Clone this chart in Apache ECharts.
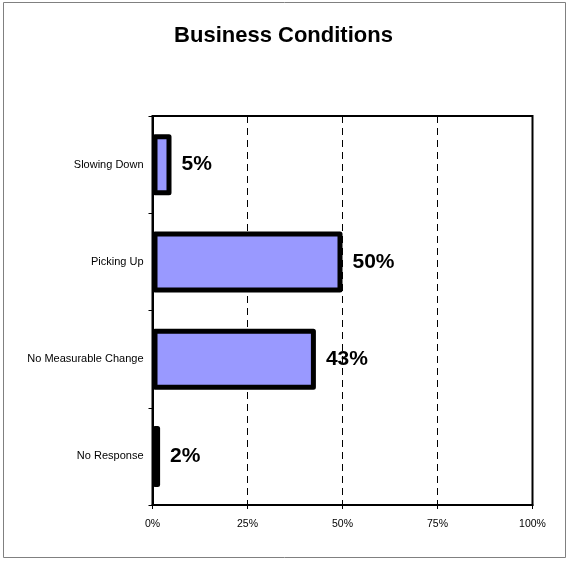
<!DOCTYPE html>
<html>
<head>
<meta charset="utf-8">
<title>Business Conditions</title>
<script src="https://cdn.jsdelivr.net/npm/echarts@6/dist/echarts.min.js"></script>
<style>
  html, body { margin: 0; padding: 0; background: #fff; }
  #chart { width: 567px; height: 561px; }
</style>
</head>
<body>
<div id="chart"></div>
<script>
// Survey responses, top to bottom
const categories = ['Slowing Down', 'Picking Up', 'No Measurable Change', 'No Response'];
const percentValues = [5, 50, 43, 2];
const barColors = ['#9999FF', '#9999FF', '#9999FF', '#000000'];
const xTicks = [0, 25, 50, 75, 100];

const FONT = '"Liberation Sans", Arial, sans-serif';

const chart = echarts.init(document.getElementById('chart'), null, { renderer: 'canvas' });

chart.setOption({
  animation: false,
  backgroundColor: '#ffffff',
  title: {
    text: 'Business Conditions',
    left: 'center',
    top: 20,
    textStyle: { fontFamily: FONT, fontSize: 22, fontWeight: 'bold', color: '#000' }
  },
  grid: {
    left: 152.5,
    right: 34.5,
    top: 116,
    bottom: 56,
    show: true,
    borderColor: '#000',
    borderWidth: 2,
    backgroundColor: 'transparent',
    containLabel: false
  },
  xAxis: {
    type: 'value',
    min: xTicks[0],
    max: xTicks[xTicks.length - 1],
    interval: 25,
    axisLine: { show: true, lineStyle: { color: '#000', width: 2 } },
    axisTick: { show: true, length: 4, lineStyle: { color: '#000' } },
    axisLabel: {
      margin: 14,
      fontFamily: FONT,
      fontSize: 10.5,
      color: '#000',
      formatter: v => v + '%'
    },
    splitLine: {
      show: true,
      lineStyle: { color: '#000', width: 1, type: [7, 5] }
    }
  },
  yAxis: {
    type: 'category',
    data: categories,
    inverse: true,
    axisLine: { show: true, lineStyle: { color: '#000', width: 2 } },
    axisTick: { show: true, length: 4, inside: false, lineStyle: { color: '#000' } },
    axisLabel: {
      margin: 9,
      fontFamily: FONT,
      fontSize: 11,
      color: '#000'
    },
    splitLine: { show: false }
  },
  series: [{
    type: 'bar',
    barWidth: 61,
    data: percentValues.map((v, i) => ({
      value: v,
      itemStyle: { color: barColors[i] }
    })),
    itemStyle: {
      borderColor: '#000',
      borderWidth: 5,
      borderJoin: 'round'
    },
    label: {
      show: true,
      position: 'right',
      distance: 10,
      formatter: p => p.value + '%',
      fontFamily: FONT,
      fontSize: 21,
      fontWeight: 'bold',
      color: '#000'
    }
  }],
  graphic: [{
    type: 'rect',
    shape: { x: 3.5, y: 2.5, width: 562, height: 555 },
    style: { fill: 'none', stroke: '#808080', lineWidth: 1 },
    silent: true,
    z: 10
  }]
});
</script>
</body>
</html>
